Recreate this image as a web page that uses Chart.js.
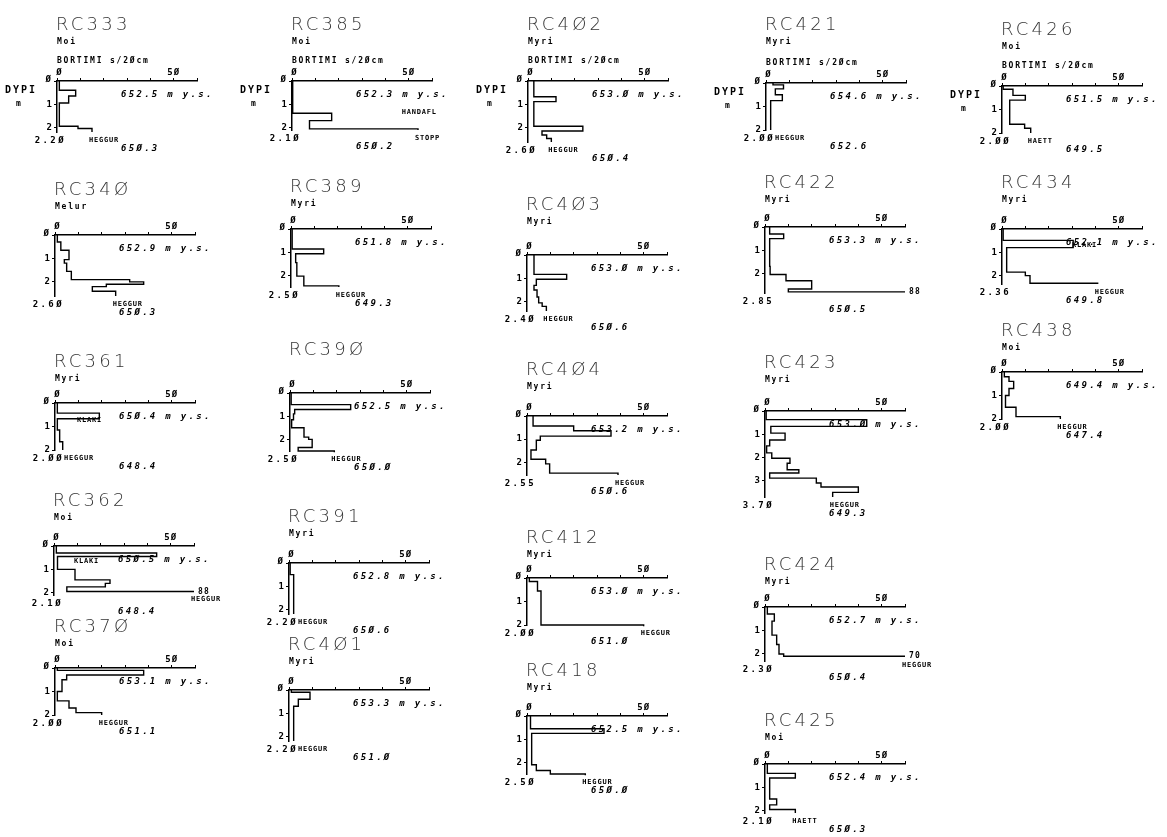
<!DOCTYPE html>
<html>
<head>
<meta charset="utf-8">
<script src="https://cdn.jsdelivr.net/npm/chart.js@4.4.1/dist/chart.umd.min.js"></script>
<style>
  html, body { margin: 0; background: #fff; }
  #sheet { position: relative; width: 1167px; height: 837px; overflow: hidden; background: #fff; }
  #sheet canvas { position: absolute; }
</style>
</head>
<body>
<div id="sheet"></div>
<script>
// bore holes, in column order
const boreNames = ["RC333", "RC340", "RC361", "RC362", "RC370",
  "RC385", "RC389", "RC390", "RC391", "RC401",
  "RC402", "RC403", "RC404", "RC412", "RC418",
  "RC421", "RC422", "RC423", "RC424", "RC425",
  "RC426", "RC434", "RC438"];
const soilTypes = ["Moi", "Melur", "Myri", "Moi", "Moi",
  "Moi", "Myri", "", "Myri", "Myri",
  "Myri", "Myri", "Myri", "Myri", "Myri",
  "Myri", "Myri", "Myri", "Myri", "Moi",
  "Moi", "Myri", "Moi"];
const surfaceElev = [652.5, 652.9, 650.4, 650.5, 653.1,
  652.3, 651.8, 652.5, 652.8, 653.3,
  653.0, 653.0, 653.2, 653.0, 652.5,
  654.6, 653.3, 653.0, 652.7, 652.4,
  651.5, 652.1, 649.4];
const bottomElev = [650.3, 650.3, 648.4, 648.4, 651.1,
  650.2, 649.3, 650.0, 650.6, 651.0,
  650.4, 650.6, 650.6, 651.0, 650.0,
  652.6, 650.5, 649.3, 650.4, 650.3,
  649.5, 649.8, 647.4];
const endDepths = [2.20, 2.60, 2.00, 2.10, 2.00,
  2.10, 2.50, 2.50, 2.20, 2.20,
  2.60, 2.40, 2.55, 2.00, 2.50,
  2.00, 2.85, 3.70, 2.30, 2.10,
  2.00, 2.36, 2.00];
const stopLabels = ["HEGGUR", "HEGGUR", "HEGGUR", "HEGGUR", "HEGGUR",
  "STOPP", "HEGGUR", "HEGGUR", "HEGGUR", "HEGGUR",
  "HEGGUR", "HEGGUR", "HEGGUR", "HEGGUR", "HEGGUR",
  "HEGGUR", "", "HEGGUR", "HEGGUR", "HAETT",
  "HAETT", "HEGGUR", "HEGGUR"];

// drilling time profiles: layer boundaries (m) and s/20cm in each layer
const rc333Depth = [0, 0.4, 0.65, 0.95, 1.95, 2.05, 2.2];
const rc333Value = [1, 8, 5, 1, 9, 15];
const rc340Depth = [0, 0.3, 0.65, 1.05, 1.2, 1.55, 1.9, 2.0, 2.1, 2.2, 2.4, 2.6];
const rc340Value = [1, 2.5, 6, 4, 5, 7, 32, 38, 22, 16, 26];
const rc361Depth = [0, 0.43, 0.67, 1.15, 1.65, 2.0];
const rc361Value = [1, 19, 1, 2, 3.3];
const rc362Depth = [0, 0.3, 0.45, 1.0, 1.45, 1.6, 1.75, 1.95, 2.1];
const rc362Value = [1, 44, 1.5, 9, 24, 22, 5.5, 88];
const rc370Depth = [0, 0.1, 0.3, 0.5, 1.0, 1.4, 1.7, 1.9, 2.0];
const rc370Value = [1, 38, 5, 3, 1, 6, 9, 20];
const rc385Depth = [0, 1.38, 1.7, 2.05, 2.1];
const rc385Value = [0.3, 17, 7.5, 54];
const rc389Depth = [0, 0.86, 1.07, 1.45, 2.03, 2.45, 2.5];
const rc389Value = [0.5, 14, 2, 2.5, 5.5, 20.5];
const rc390Depth = [0, 0.5, 0.71, 0.9, 1.15, 1.5, 1.9, 2.0, 2.35, 2.5, 2.55];
const rc390Value = [0.5, 26, 2, 1.5, 0.7, 6, 8, 9.5, 3.5, 19];
const rc391Depth = [0, 0.5, 2.2];
const rc391Value = [0.5, 2];
const rc401Depth = [0, 0.1, 0.4, 0.7, 2.2];
const rc401Value = [1, 9, 4, 2];
const rc402Depth = [0, 0.67, 0.88, 1.93, 2.13, 2.3, 2.45, 2.6];
const rc402Value = [2.5, 12, 2.5, 23.5, 6, 8, 10];
const rc403Depth = [0, 0.83, 1.04, 1.3, 1.5, 1.8, 2.05, 2.2, 2.4];
const rc403Value = [3, 17, 4, 3, 4.3, 5, 6.5, 8.3];
const rc404Depth = [0, 0.43, 0.64, 0.87, 1.05, 1.47, 1.87, 2.07, 2.47, 2.55];
const rc404Value = [2.6, 20, 36, 5.7, 4, 1.7, 8, 9.7, 39];
const rc412Depth = [0, 0.15, 0.55, 2.0, 2.05];
const rc412Value = [1, 4.5, 6, 50];
const rc418Depth = [0, 0.55, 0.75, 2.1, 2.35, 2.5, 2.55];
const rc418Value = [1.5, 33, 2, 4, 10, 25];
const rc421Depth = [0, 0.08, 0.25, 0.5, 0.75, 2.0];
const rc421Value = [3, 7.5, 4, 7, 2];
const rc422Depth = [0, 0.3, 0.5, 1.7, 2.05, 2.32, 2.68, 2.8, 2.85];
const rc422Value = [2, 8, 2, 2.2, 9, 20, 10, 88];
const rc423Depth = [0, 0.37, 0.66, 0.95, 1.25, 1.5, 1.8, 2.03, 2.25, 2.53, 2.67, 2.89, 3.1, 3.27, 3.5, 3.7];
const rc423Value = [0.5, 43.6, 2.5, 8.6, 2, 0.7, 2.9, 10.7, 9.5, 14.5, 2, 22, 24, 40, 29];
const rc424Depth = [0, 0.3, 0.6, 1.2, 1.6, 2.0, 2.1, 2.3];
const rc424Value = [1, 4, 3, 5, 6, 8, 70];
const rc425Depth = [0, 0.4, 0.6, 1.5, 1.75, 1.95, 2.1];
const rc425Value = [1, 13, 2, 5, 2, 13];
const rc426Depth = [0, 0.14, 0.4, 0.6, 1.63, 1.8, 2.0];
const rc426Value = [0.5, 4.7, 10, 3.3, 9.7, 12.3];
const rc434Depth = [0, 0.49, 0.8, 1.85, 2.0, 2.33, 2.36];
const rc434Value = [0.5, 30.5, 2, 10, 12, 41];
const rc438Depth = [0, 0.2, 0.4, 0.7, 1.0, 1.5, 1.9, 2.0];
const rc438Value = [1, 3, 5, 3, 1.5, 6, 25];

const profiles = [
  [rc333Depth, rc333Value], [rc340Depth, rc340Value], [rc361Depth, rc361Value],
  [rc362Depth, rc362Value], [rc370Depth, rc370Value], [rc385Depth, rc385Value],
  [rc389Depth, rc389Value], [rc390Depth, rc390Value], [rc391Depth, rc391Value],
  [rc401Depth, rc401Value], [rc402Depth, rc402Value], [rc403Depth, rc403Value],
  [rc404Depth, rc404Value], [rc412Depth, rc412Value], [rc418Depth, rc418Value],
  [rc421Depth, rc421Value], [rc422Depth, rc422Value], [rc423Depth, rc423Value],
  [rc424Depth, rc424Value], [rc425Depth, rc425Value], [rc426Depth, rc426Value],
  [rc434Depth, rc434Value], [rc438Depth, rc438Value]
];

// remarks written inside a log: bore, text, value, depth
const remarks = [
  ["RC361", "KLAKI", 9.4, 0.73],
  ["RC362", "KLAKI", 8.6, 0.64],
  ["RC385", "HANDAFL", 47, 1.33],
  ["RC434", "KLAKI", 30, 0.69]
];

// page layout: origin of each log (px) and gap from title baseline to axis
const panels = [
  [57, 81, 51], [55, 235, 40], [55, 403, 36], [54, 546, 40], [55, 668, 36],
  [292, 81, 51], [291, 229, 37], [290, 393, 38], [289, 563, 41], [289, 690, 40],
  [528, 81, 51], [527, 255, 45], [527, 416, 41], [527, 578, 35], [527, 716, 40],
  [766, 83, 53], [765, 227, 39], [765, 411, 43], [765, 607, 37], [765, 764, 38],
  [1002, 86, 51], [1002, 229, 41], [1002, 372, 36]
];
const headerRow = ["RC333", "RC385", "RC402", "RC421", "RC426"];

const X_MAX = 60;
const UNIT_PX = 2.33;
const METRE_PX = 23.3;
const PAD_L = 62, PAD_T = 74, PAD_R = 48, PAD_B = 34;
const MONO = '"DejaVu Sans Mono", monospace';

function slashZero(text) {
  return String(text).replace(/0/g, "\u00d8");
}

function put(ctx, text, x, y, font, spacing, align, baseline, color) {
  ctx.save();
  ctx.font = font;
  ctx.letterSpacing = (spacing || 0) + "px";
  ctx.textAlign = align || "left";
  ctx.textBaseline = baseline || "middle";
  ctx.fillStyle = color || "#000";
  ctx.fillText(text, x, y);
  ctx.restore();
}

const boreText = {
  id: "boreText",
  afterDraw(chart, args, opts) {
    const i = opts.index;
    const name = boreNames[i];
    const { ctx, scales: { x, y } } = chart;
    const ox = x.getPixelForValue(0);
    const oy = y.getPixelForValue(0);
    const bottom = y.getPixelForValue(endDepths[i]);
    const xEnd = x.getPixelForValue(X_MAX);
    const header = headerRow.includes(name);
    const titleBase = oy - panels[i][2];

    put(ctx, slashZero(name), ox - 1, titleBase, '300 18px "DejaVu Sans", sans-serif', 3.2, "left", "alphabetic", "#333");
    const labelFont = "700 8px " + MONO;
    if (soilTypes[i]) {
      put(ctx, soilTypes[i], ox, titleBase + 12, labelFont, 1.8);
    }
    if (header) {
      put(ctx, "BORTIMI s/2\u00d8cm", ox, oy - 20, labelFont, 1.8);
      put(ctx, "DYPI", ox - 52, oy + 9, "700 10px " + MONO, 2);
      put(ctx, "m", ox - 41, oy + 23, labelFont, 0);
    }

    // tick labels
    const tickFont = "700 9px " + MONO;
    put(ctx, "\u00d8", ox - 6, oy - 1, tickFont, 0, "right");
    put(ctx, "\u00d8", ox + 2, oy - 8, tickFont, 0, "center");
    put(ctx, "5\u00d8", x.getPixelForValue(50), oy - 8, tickFont, 1, "center");
    for (let d = 1; d <= Math.floor(endDepths[i]); d++) {
      put(ctx, String(d), ox - 5, y.getPixelForValue(d), tickFont, 0, "right");
    }

    const elevFont = "italic 700 9px " + MONO;
    put(ctx, slashZero(surfaceElev[i].toFixed(1)) + " m y.s.", ox + 64, oy + 14, elevFont, 2.3);
    put(ctx, slashZero(endDepths[i].toFixed(2)), ox + 9, bottom + 9, tickFont, 2.4, "right");
    put(ctx, slashZero(bottomElev[i].toFixed(1)), ox + 64, bottom + 17, elevFont, 2.3);

    // end of sounding
    const [depths, values] = profiles[i];
    const last = values[values.length - 1];
    const smallFont = "700 7px " + MONO;
    if (last > X_MAX) {
      const lineY = y.getPixelForValue(depths[depths.length - 2]);
      put(ctx, String(last), xEnd + 4, lineY, labelFont, 1.2);
      if (stopLabels[i]) put(ctx, stopLabels[i], xEnd - 3, bottom + 4, smallFont, 0.8);
    } else if (stopLabels[i]) {
      const fx = Math.max(x.getPixelForValue(last) - 3, ox + 9);
      put(ctx, stopLabels[i], fx, bottom + 8, smallFont, 0.8);
    }

    remarks.filter((r) => r[0] === name).forEach((r) => {
      put(ctx, r[1], x.getPixelForValue(r[2]), y.getPixelForValue(r[3]), smallFont, 0.8);
    });
  }
};

function stepPoints(depths, values) {
  const points = [];
  values.forEach((v, k) => {
    points.push({ x: v, y: depths[k] });
    points.push({ x: v, y: depths[k + 1] });
  });
  return points;
}

const sheet = document.getElementById("sheet");

boreNames.forEach((name, i) => {
  const [ox, oy] = panels[i];
  const canvas = document.createElement("canvas");
  const width = PAD_L + Math.round(X_MAX * UNIT_PX) + PAD_R;
  const height = PAD_T + Math.round(endDepths[i] * METRE_PX) + PAD_B;
  canvas.width = width;
  canvas.height = height;
  canvas.style.width = width + "px";
  canvas.style.height = height + "px";
  canvas.style.left = (ox - PAD_L) + "px";
  canvas.style.top = (oy - PAD_T) + "px";
  sheet.appendChild(canvas);

  const [depths, values] = profiles[i];

  new Chart(canvas.getContext("2d"), {
    type: "scatter",
    data: {
      datasets: [{
        data: stepPoints(depths, values),
        showLine: true,
        borderColor: "#000",
        borderWidth: 1.4,
        pointRadius: 0,
        fill: false,
        clip: { left: 4, top: 4, right: 0, bottom: 10 }
      }]
    },
    options: {
      responsive: false,
      animation: false,
      events: [],
      layout: { padding: { left: PAD_L - 10, top: PAD_T - 10, right: PAD_R, bottom: PAD_B } },
      plugins: {
        legend: { display: false },
        tooltip: { enabled: false },
        boreText: { index: i }
      },
      scales: {
        x: {
          type: "linear",
          position: "top",
          min: 0,
          max: X_MAX,
          afterFit(scale) { scale.height = 10; },
          ticks: { display: false, stepSize: 10 },
          grid: { drawOnChartArea: false, drawTicks: true, tickLength: 3, color: "#000", lineWidth: 1 },
          border: { display: true, color: "#000", width: 1.5 }
        },
        y: {
          type: "linear",
          reverse: true,
          min: 0,
          max: endDepths[i],
          afterFit(scale) { scale.width = 10; },
          ticks: { display: false, stepSize: 1, includeBounds: false },
          grid: { drawOnChartArea: false, drawTicks: true, tickLength: 3, color: "#000", lineWidth: 1 },
          border: { display: true, color: "#000", width: 1.5 }
        }
      }
    },
    plugins: [boreText]
  });
});
</script>
</body>
</html>
